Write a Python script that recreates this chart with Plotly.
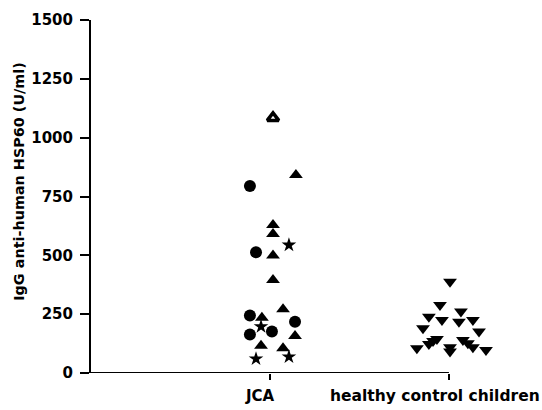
import plotly.graph_objects as go

# ---- data ----
y_ticks = [0, 250, 500, 750, 1000, 1250, 1500]
categories = ["JCA", "healthy control children"]
cat_pos = [1, 2]

jca_circle_x = [0.888, 0.922, 0.888, 1.140, 1.011, 0.888]
jca_circle_y = [795, 513, 244, 218, 176, 164]

jca_tri_x = [1.145, 1.017, 1.017, 1.017, 1.017, 1.073, 0.955, 1.140, 0.950, 1.073]
jca_tri_y = [841, 629, 591, 499, 395, 271, 235, 157, 116, 105]

jca_star_x = [1.106, 0.950, 1.106, 0.922]
jca_star_y = [544, 197, 69, 60]

jca_open_x = [1.017]
jca_open_y = [1084]

ctrl_x = [2.006, 1.950, 2.067, 1.888, 1.961, 2.056, 2.134, 1.855, 2.168, 1.933,
          1.888, 2.078, 2.106, 1.821, 2.006, 2.006, 2.134, 2.207, 1.911]
ctrl_y = [388, 289, 261, 239, 225, 218, 225, 190, 176, 144,
          123, 140, 126, 105, 109, 91, 109, 98, 136]

FONT = "DejaVu Sans"

fig = go.Figure()
common = dict(mode="markers", cliponaxis=False, showlegend=False, hoverinfo="skip")
fig.add_trace(go.Scatter(x=jca_circle_x, y=jca_circle_y,
                         marker=dict(symbol="circle", size=12, color="black", line=dict(width=0)), **common))
fig.add_trace(go.Scatter(x=jca_tri_x, y=jca_tri_y,
                         marker=dict(symbol="triangle-up", size=12, color="black", line=dict(width=0)), **common))
fig.add_trace(go.Scatter(x=jca_star_x, y=jca_star_y,
                         marker=dict(symbol="star", size=11, color="black", line=dict(width=0)), **common))
fig.add_trace(go.Scatter(x=jca_open_x, y=jca_open_y,
                         marker=dict(symbol="triangle-up-open", size=10, color="black", line=dict(width=3.5, color="black")), **common))
fig.add_trace(go.Scatter(x=ctrl_x, y=ctrl_y,
                         marker=dict(symbol="triangle-down", size=12, color="black", line=dict(width=0)), **common))

# x axis line (ends at the control category)
fig.add_shape(type="line", xref="x", yref="y", x0=0, x1=cat_pos[-1], y0=0, y1=0,
              line=dict(color="black", width=2))

fig.add_annotation(x=cat_pos[0] - 0.056, y=0, xref="x", yref="y", yshift=-23,
                   text=categories[0], showarrow=False, xanchor="center",
                   font=dict(family=FONT, size=15, color="black", weight="bold"))
fig.add_annotation(x=cat_pos[1] - 0.078, y=0, xref="x", yref="y", yshift=-23,
                   text=categories[1], showarrow=False, xanchor="center",
                   font=dict(family=FONT, size=15.5, color="black", weight="bold"))
fig.add_annotation(x=-0.16, y=0.544, xref="paper", yref="paper",
                   xanchor="center", yanchor="middle",
                   text="IgG anti-human HSP60 (U/ml)", showarrow=False, textangle=-90,
                   font=dict(family=FONT, size=14.4, color="black", weight="bold"))

fig.update_layout(
    width=542, height=410,
    margin=dict(l=91, r=0, t=20, b=37),
    paper_bgcolor="white", plot_bgcolor="white",
    xaxis=dict(range=[0, 2.52], showgrid=False, zeroline=False, showline=False,
               tickmode="array", tickvals=cat_pos, ticktext=["", ""],
               ticks="outside", ticklen=6, tickwidth=2, tickcolor="black"),
    yaxis=dict(range=[0, 1500], showgrid=False, zeroline=False, showline=True,
               linecolor="black", linewidth=2,
               tickmode="array", tickvals=y_ticks, ticktext=[str(v) for v in y_ticks],
               ticks="outside", ticklen=9, tickwidth=2, tickcolor="black",
               ticklabelstandoff=4,
               tickfont=dict(family=FONT, size=15, color="black", weight="bold")),
)

fig.write_html("out.html")
